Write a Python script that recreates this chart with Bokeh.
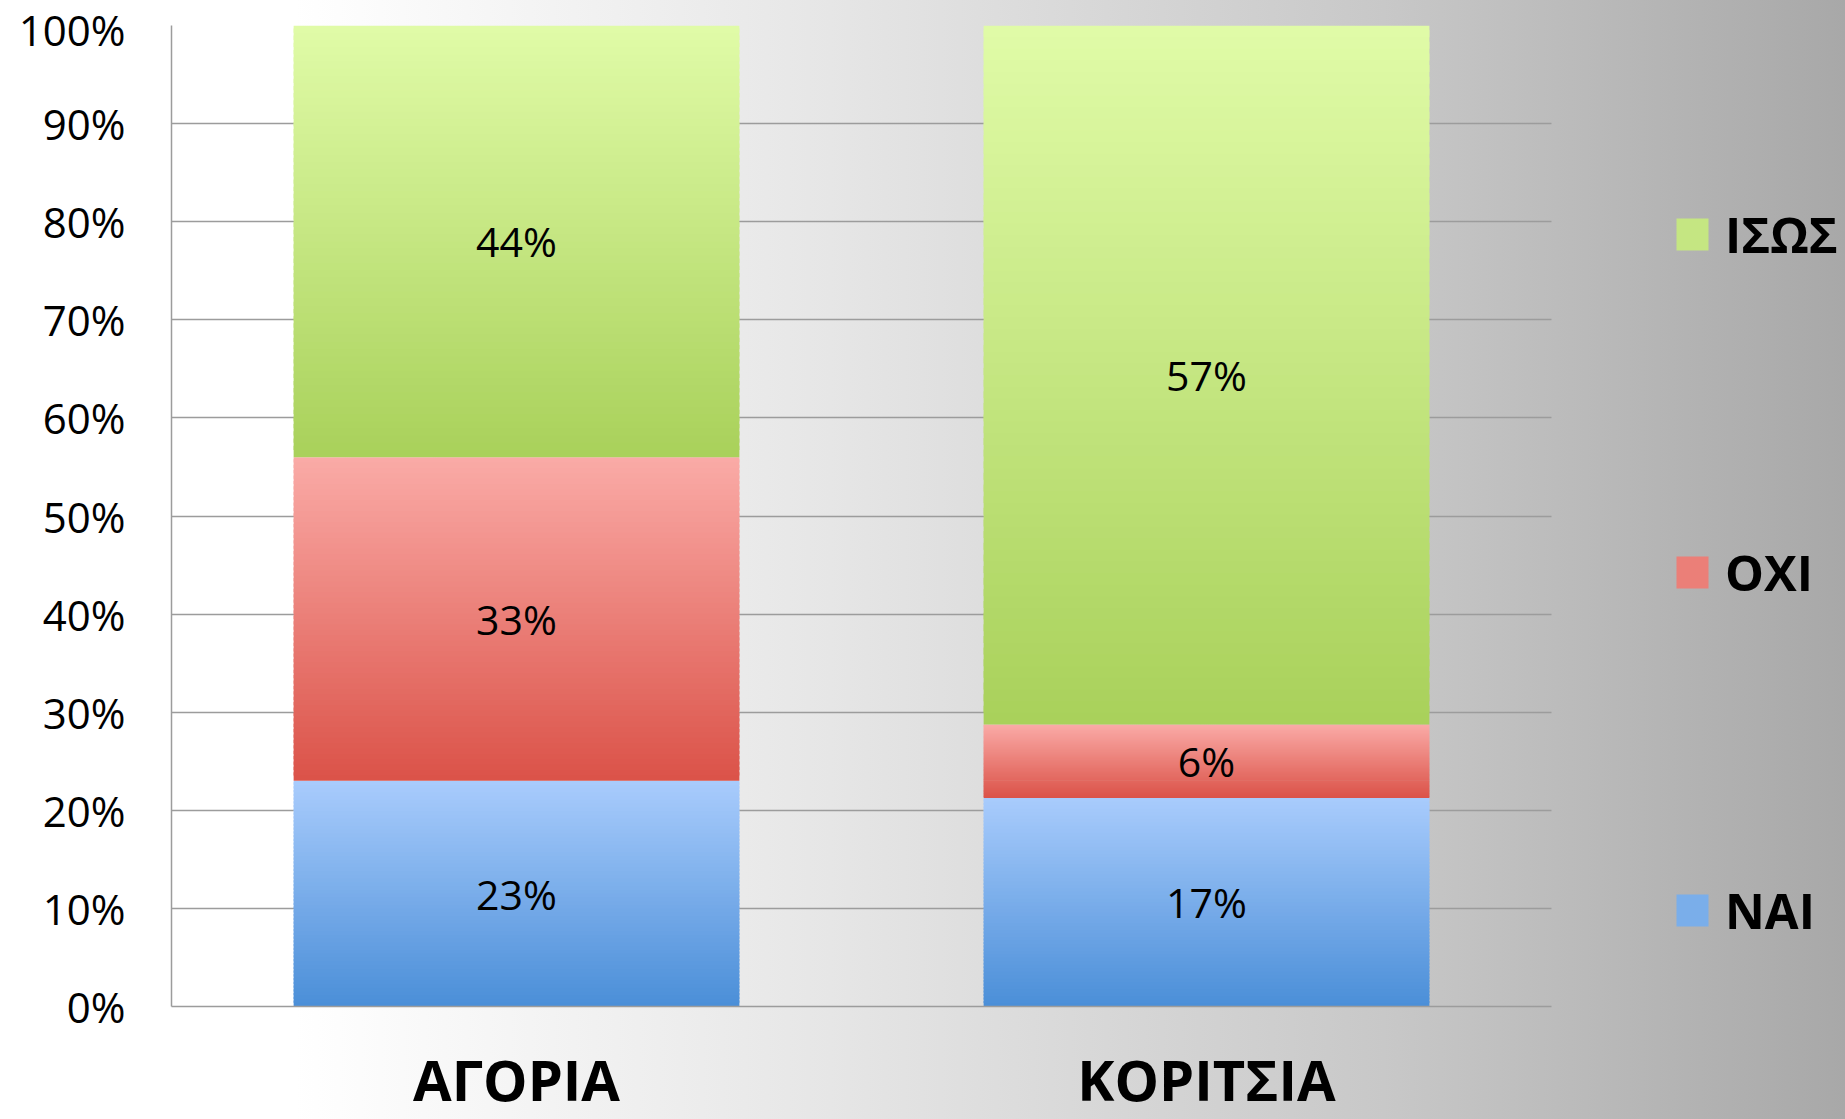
from bokeh.plotting import figure
from bokeh.models import (ColumnDataSource, Range1d, Legend, LegendItem,
                          NumeralTickFormatter, FixedTicker)
from bokeh.core.properties import value
from bokeh.embed import file_html
from bokeh.resources import INLINE

# ---- data ----
categories = ["ΑΓΟΡΙΑ", "ΚΟΡΙΤΣΙΑ"]
series_names = ["ΝΑΙ", "ΟΧΙ", "ΙΣΩΣ"]
nai = [23, 17]
oxi = [33, 6]
isos = [44, 57]
y_ticks = [0.0, 0.1, 0.2, 0.3, 0.4, 0.5, 0.6, 0.7, 0.8, 0.9, 1.0]

# ---- styles ----
top_colors = ["#a8cbfc", "#faaaa6", "#e0fba7"]
bottom_colors = ["#4b8fd8", "#db5349", "#a9d15b"]
N_SLICES = 60
BAR_W = 0.646
N_CAT = len(categories)
# the plotting frame continues under the legend area (legend sits to the right of the bars)
X_END = N_CAT * (1674 / 1380)


def hex_to_rgb(h):
    h = h.lstrip("#")
    return tuple(int(h[i:i + 2], 16) for i in (0, 2, 4))


def mix(c1, c2, t):
    a, b = hex_to_rgb(c1), hex_to_rgb(c2)
    return "#%02x%02x%02x" % tuple(round(a[i] + (b[i] - a[i]) * t) for i in range(3))


p = figure(x_range=Range1d(0, X_END), y_range=Range1d(0, 1),
           width=1845, height=1119, output_backend="svg", toolbar_location=None,
           min_border_left=171, min_border_right=0, min_border_top=25, min_border_bottom=113,
           background_fill_color=None, border_fill_color=None, outline_line_color=None,
           styles={"background": "linear-gradient(to right, #ffffff 0%, #ffffff 16%, "
                                 "#e6e6e6 45%, #c8c8c8 75%, #a8a8a8 100%)"})

all_vals = [nai, oxi, isos]
totals = [sum(v[i] for v in all_vals) for i in range(N_CAT)]
cat_pos = [i + 0.5 for i in range(N_CAT)]

renderers = []
lab_x, lab_y, lab_t = [], [], []
cum = [0.0] * N_CAT
for s, vals in enumerate(all_vals):
    xs, bots, tops, cols = [], [], [], []
    for i in range(N_CAT):
        b0 = cum[i]
        h = vals[i] / totals[i]
        t0 = b0 + h
        for k in range(N_SLICES):
            xs.append(cat_pos[i])
            bots.append(b0 + h * k / N_SLICES)
            tops.append(b0 + h * min(k + 1.6, N_SLICES) / N_SLICES)
            cols.append(mix(bottom_colors[s], top_colors[s], k / (N_SLICES - 1)))
        lab_x.append(cat_pos[i])
        lab_y.append((b0 + t0) / 2)
        lab_t.append(f"{vals[i]}%")
        cum[i] = t0
    src = ColumnDataSource(dict(x=xs, bottom=bots, top=tops, color=cols))
    r = p.vbar(x="x", width=BAR_W, bottom="bottom", top="top", source=src,
               fill_color="color", line_color=None)
    renderers.append(r)

lab_src = ColumnDataSource(dict(x=lab_x, y=lab_y, t=lab_t))
p.text(x="x", y="y", text="t", source=lab_src, text_align="center", text_baseline="middle",
       text_font=value("Open Sans"), text_font_size="41px", text_color="#000000")

# axes
p.yaxis.ticker = FixedTicker(ticks=y_ticks)
p.yaxis.formatter = NumeralTickFormatter(format="0%")
p.yaxis.major_label_text_font = "Open Sans"
p.yaxis.major_label_text_font_size = "42px"
p.yaxis.major_label_text_color = "#000000"
p.yaxis.major_tick_line_color = None
p.yaxis.minor_tick_line_color = None
p.yaxis.major_label_standoff = 40
p.yaxis.axis_line_color = "#9c9c9c"
p.yaxis.axis_line_width = 1.5

p.xaxis.ticker = FixedTicker(ticks=cat_pos)
p.xaxis.major_label_overrides = {cat_pos[i]: categories[i] for i in range(N_CAT)}
p.xaxis.bounds = (0, N_CAT)
p.xaxis.major_label_text_font = "Open Sans"
p.xaxis.major_label_text_font_style = "bold"
p.xaxis.major_label_text_font_size = "56px"
p.xaxis.major_label_text_color = "#000000"
p.xaxis.major_tick_line_color = None
p.xaxis.minor_tick_line_color = None
p.xaxis.major_label_standoff = 28
p.xaxis.axis_line_color = "#9c9c9c"
p.xaxis.axis_line_width = 1.5

p.xgrid.grid_line_color = None
p.ygrid.grid_line_color = "#9c9c9c"
p.ygrid.grid_line_width = 1.5
p.ygrid.cross_bounds = (0, N_CAT)

# legend (top to bottom: ΙΣΩΣ, ΟΧΙ, ΝΑΙ)
items = []
for s in [2, 1, 0]:
    items.append(LegendItem(label=series_names[s], renderers=[renderers[s]], index=N_SLICES // 2))
legend = Legend(items=items, location=(1501, 63), padding=0, margin=0,
                spacing=272, glyph_width=40, glyph_height=40, label_standoff=13,
                label_text_font="Open Sans", label_text_font_style="bold",
                label_text_font_size="49px", label_text_color="#000000",
                border_line_color=None, background_fill_alpha=0)
p.add_layout(legend, "center")

open("out.html", "w").write(file_html(p, INLINE))
